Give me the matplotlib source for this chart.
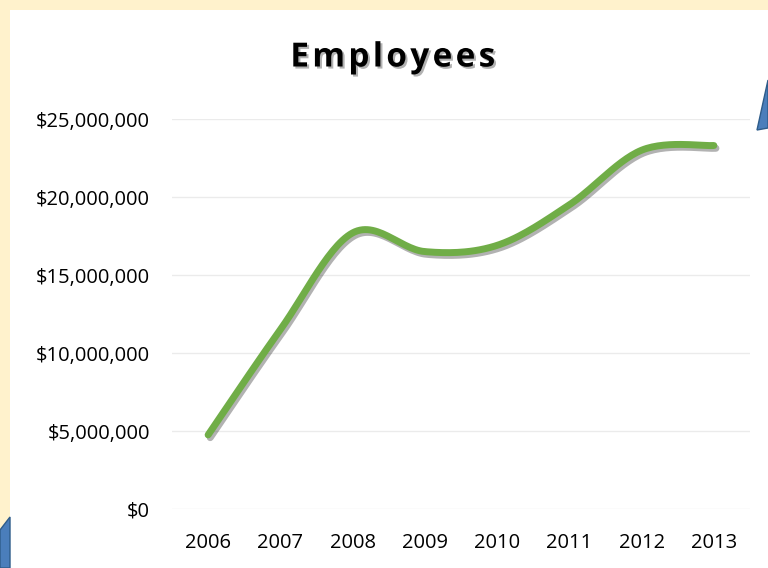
import numpy as np
import matplotlib.pyplot as plt
import matplotlib.patheffects as pe
from matplotlib.patches import Polygon, Rectangle
from matplotlib.ticker import FuncFormatter

# data
years = ['2006', '2007', '2008', '2009', '2010', '2011', '2012', '2013']
amounts = [4.75e6, 11.5e6, 17.7e6, 16.5e6, 16.9e6, 19.5e6, 23.0e6, 23.3e6]
y_ticks = [0, 5e6, 10e6, 15e6, 20e6, 25e6]

plt.rcParams['font.family'] = ['Open Sans', 'DejaVu Sans']

W, H = 768, 568
fig = plt.figure(figsize=(W / 100, H / 100), dpi=100, facecolor='#FFF2CC')

# white chart panel
fig.patches.append(Rectangle((10 / W, 0), 1, 1 - 10 / H, transform=fig.transFigure,
                             facecolor='white', edgecolor='none', zorder=-2))
# blue decorations on the edges
fig.patches.append(Polygon([(768 / W, 1 - 80 / H), (757 / W, 1 - 130 / H), (768 / W, 1 - 128 / H)],
                           closed=True, transform=fig.transFigure,
                           facecolor='#4A7EBB', edgecolor='#2E5C8A', lw=1, zorder=-1))
fig.patches.append(Polygon([(0, 1 - 530 / H), (10 / W, 1 - 517 / H), (10 / W, 0), (0, 0)],
                           closed=True, transform=fig.transFigure,
                           facecolor='#4A7EBB', edgecolor='#2E5C8A', lw=1, zorder=-1))

ax = fig.add_axes([172 / W, 1 - 509 / H, 578 / W, 390 / H])
ax.set_facecolor('none')
ax.set_zorder(2)

# Excel-style smoothed line (Catmull-Rom through the data points)
x = np.arange(len(years))
y = np.array(amounts)
xs, ys = [], []
n = len(x)
for i in range(n - 1):
    p0 = np.array([x[max(i - 1, 0)], y[max(i - 1, 0)]])
    p1 = np.array([x[i], y[i]])
    p2 = np.array([x[i + 1], y[i + 1]])
    p3 = np.array([x[min(i + 2, n - 1)], y[min(i + 2, n - 1)]])
    c1 = p1 + (p2 - p0) / 6
    c2 = p2 - (p3 - p1) / 6
    t = np.linspace(0, 1, 30)[:, None]
    pts = (1 - t) ** 3 * p1 + 3 * (1 - t) ** 2 * t * c1 + 3 * (1 - t) * t ** 2 * c2 + t ** 3 * p2
    xs.extend(pts[:, 0])
    ys.extend(pts[:, 1])

ax.plot(xs, ys, color='#70AD47', lw=5, solid_capstyle='round', zorder=3,
        path_effects=[pe.SimpleLineShadow(offset=(1.5, -2), shadow_color='black', alpha=0.3),
                      pe.Normal()])

ax.set_xlim(-0.5, n - 0.5)
ax.set_ylim(0, 25e6)
ax.set_xticks(x)
ax.set_xticklabels(years)
ax.set_yticks(y_ticks)
ax.yaxis.set_major_formatter(FuncFormatter(lambda v, p: '${:,.0f}'.format(v)))
ax.tick_params(axis='both', length=0, labelsize=14.5, colors='black')
ax.tick_params(axis='y', pad=16)
ax.tick_params(axis='x', pad=17)
ax.grid(axis='y', color='#EBEBEB', lw=1)
ax.set_axisbelow(True)
for s in ax.spines.values():
    s.set_visible(False)

fig.text(393 / W, 1 - 58 / H, 'E m p l o y e e s'.replace(' ', '\u200a'), ha='center', va='center',
         fontsize=24, fontweight='bold', color='black',
         path_effects=[pe.withSimplePatchShadow(offset=(1.5, -1.5), shadow_rgbFace='gray', alpha=0.6)])

fig.savefig('out.png', dpi=100, facecolor=fig.get_facecolor())
